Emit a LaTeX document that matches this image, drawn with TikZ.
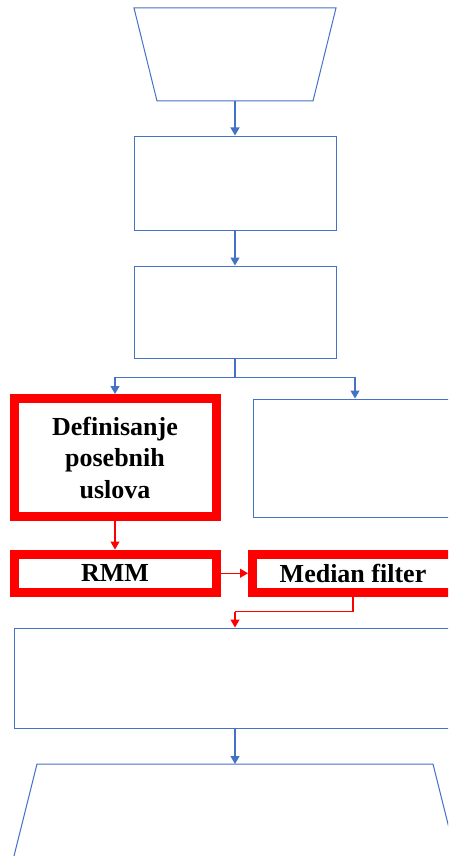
\documentclass[tikz,border=0pt]{standalone}
\usepackage{fontspec}
\setmainfont{Liberation Serif}
\usetikzlibrary{arrows.meta,calc}
\definecolor{oblue}{HTML}{4472C4}
\definecolor{ored}{HTML}{FF0000}
\tikzset{
  bline/.style={draw=oblue, line width=1pt},
  bbox/.style={bline, rectangle, inner sep=0pt},
  rbox/.style={draw=ored, line width=9pt, rectangle, inner sep=0pt, align=center,
     font=\fontsize{26}{31.5}\selectfont\bfseries},
  barrow/.style={color=oblue, line width=1.2pt, -{Triangle[width=9pt,length=8pt]}},
  rarrow/.style={color=ored, line width=1.2pt, -{Triangle[width=9pt,length=8pt]}},
  bconn/.style={color=oblue, line width=1.2pt},
  rconn/.style={color=ored, line width=1.2pt}
}
\begin{document}
\begin{tikzpicture}[x=1pt,y=-1pt]
\path[use as bounding box, clip] (0,0) rectangle (448,856);
% top trapezoid
\draw[bline] (134,8) -- (336,8) -- (313,101) -- (157,101) -- cycle;
\coordinate (t1) at (235,101);
% boxes
\node[bbox, minimum width=202, minimum height=94] (b2) at (235,183) {};
\node[bbox, minimum width=202, minimum height=92] (b3) at (235,312) {};
\node[rbox, minimum width=202, minimum height=118] (r1) at (115,457.5) {Definisanje\\posebnih\\uslova};
\node[bbox, minimum width=204, minimum height=118] (bR) at (355,458) {};
\node[rbox, minimum width=202, minimum height=38.5] (rmm) at (115,573.25) {RMM};
\node[rbox, minimum width=201, minimum height=38.5] (med) at (353,573.25) {Median filter};
\node[bbox, minimum width=442, minimum height=100] (big) at (235,678) {};
% bottom trapezoid
\coordinate (t2) at (235,764);
\draw[bline] (37,764) -- (433,764) -- (456.5,858) -- (13.5,858) -- cycle;
% connectors
\draw[barrow] (t1) -- (b2.north);
\draw[barrow] (b2.south) -- (b3.north);
\coordinate (split) at (235,377.5);
\draw[bconn] (b3.south) -- (split);
\draw[barrow] (split) -| (r1.north);
\draw[barrow] (split) -| (bR.north);
\draw[rarrow] (r1.south) -- (rmm.north);
\draw[rarrow] (rmm.east) -- (med.west);
\coordinate (jn) at (235,611.5);
\draw[rconn] (med.south) |- (jn);
\draw[rarrow] (jn) -- (big.north);
\draw[barrow] (big.south) -- (t2);
\end{tikzpicture}
\end{document}
